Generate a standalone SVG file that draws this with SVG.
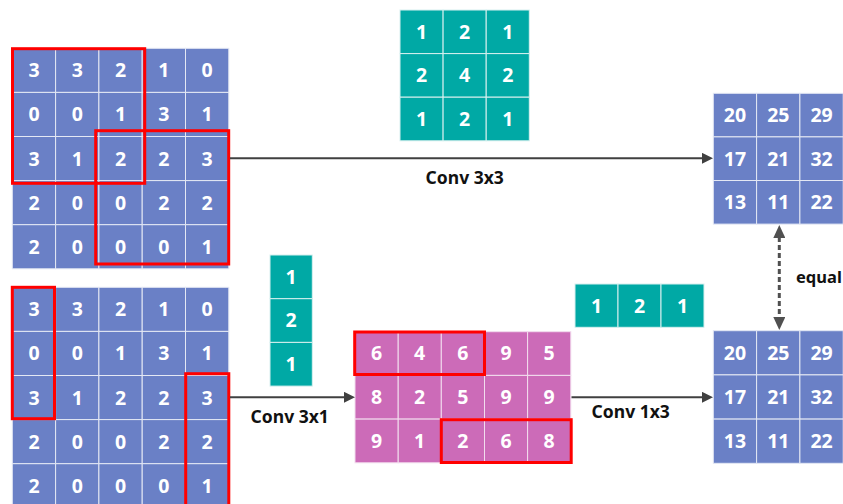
<svg xmlns="http://www.w3.org/2000/svg" width="843" height="504" viewBox="0 0 843 504">
<style>
.b{fill:#6A80C6;stroke:#E4E8F4;stroke-width:1}
.t{fill:#00A9A5;stroke:#D8F0EF;stroke-width:1}
.p{fill:#CC6BB8;stroke:#F2DDEE;stroke-width:1}
.n{font-family:"Noto Sans","Open Sans","DejaVu Sans",sans-serif;font-weight:bold;font-size:19.5px;fill:#fff;text-anchor:middle}
.lb{font-family:"Noto Sans","Open Sans","DejaVu Sans",sans-serif;font-weight:bold;font-size:17.5px;fill:#111}
.rb{fill:none;stroke:#FF0000;stroke-width:3}
.ar{fill:none;stroke:#404040;stroke-width:2}
.da{fill:none;stroke:#505050;stroke-width:3;stroke-dasharray:5 3}
</style>
<defs>
<marker id="ah" viewBox="0 0 11 11" refX="1" refY="5.5" markerWidth="11" markerHeight="11" markerUnits="userSpaceOnUse" orient="auto"><path d="M0,0 L11,5.5 L0,11 z" fill="#404040"/></marker>
<marker id="dh" viewBox="0 0 13 12" refX="1" refY="6" markerWidth="13" markerHeight="12" markerUnits="userSpaceOnUse" orient="auto-start-reverse"><path d="M0,0 L13,6 L0,12 z" fill="#505050"/></marker>
</defs>

<g id="input-top">
<rect class="b" x="12.3" y="48.3" width="43.3" height="44.1"/><rect class="b" x="55.6" y="48.3" width="43.3" height="44.1"/><rect class="b" x="98.9" y="48.3" width="43.3" height="44.1"/><rect class="b" x="142.2" y="48.3" width="43.3" height="44.1"/><rect class="b" x="185.5" y="48.3" width="43.3" height="44.1"/>
<rect class="b" x="12.3" y="92.4" width="43.3" height="44.1"/><rect class="b" x="55.6" y="92.4" width="43.3" height="44.1"/><rect class="b" x="98.9" y="92.4" width="43.3" height="44.1"/><rect class="b" x="142.2" y="92.4" width="43.3" height="44.1"/><rect class="b" x="185.5" y="92.4" width="43.3" height="44.1"/>
<rect class="b" x="12.3" y="136.5" width="43.3" height="44.1"/><rect class="b" x="55.6" y="136.5" width="43.3" height="44.1"/><rect class="b" x="98.9" y="136.5" width="43.3" height="44.1"/><rect class="b" x="142.2" y="136.5" width="43.3" height="44.1"/><rect class="b" x="185.5" y="136.5" width="43.3" height="44.1"/>
<rect class="b" x="12.3" y="180.6" width="43.3" height="44.1"/><rect class="b" x="55.6" y="180.6" width="43.3" height="44.1"/><rect class="b" x="98.9" y="180.6" width="43.3" height="44.1"/><rect class="b" x="142.2" y="180.6" width="43.3" height="44.1"/><rect class="b" x="185.5" y="180.6" width="43.3" height="44.1"/>
<rect class="b" x="12.3" y="224.7" width="43.3" height="44.1"/><rect class="b" x="55.6" y="224.7" width="43.3" height="44.1"/><rect class="b" x="98.9" y="224.7" width="43.3" height="44.1"/><rect class="b" x="142.2" y="224.7" width="43.3" height="44.1"/><rect class="b" x="185.5" y="224.7" width="43.3" height="44.1"/>
<text class="n" x="34" y="77.3">3</text><text class="n" x="77.3" y="77.3">3</text><text class="n" x="120.6" y="77.3">2</text><text class="n" x="163.9" y="77.3">1</text><text class="n" x="207.2" y="77.3">0</text>
<text class="n" x="34" y="121.4">0</text><text class="n" x="77.3" y="121.4">0</text><text class="n" x="120.6" y="121.4">1</text><text class="n" x="163.9" y="121.4">3</text><text class="n" x="207.2" y="121.4">1</text>
<text class="n" x="34" y="165.5">3</text><text class="n" x="77.3" y="165.5">1</text><text class="n" x="120.6" y="165.5">2</text><text class="n" x="163.9" y="165.5">2</text><text class="n" x="207.2" y="165.5">3</text>
<text class="n" x="34" y="209.6">2</text><text class="n" x="77.3" y="209.6">0</text><text class="n" x="120.6" y="209.6">0</text><text class="n" x="163.9" y="209.6">2</text><text class="n" x="207.2" y="209.6">2</text>
<text class="n" x="34" y="253.7">2</text><text class="n" x="77.3" y="253.7">0</text><text class="n" x="120.6" y="253.7">0</text><text class="n" x="163.9" y="253.7">0</text><text class="n" x="207.2" y="253.7">1</text>
<rect class="rb" x="12.5" y="48.7" width="132.2" height="134.6"/>
<rect class="rb" x="95.7" y="130.7" width="133" height="133.3"/>
</g>

<g id="input-bottom">
<rect class="b" x="12.3" y="287.3" width="43.3" height="44.1"/><rect class="b" x="55.6" y="287.3" width="43.3" height="44.1"/><rect class="b" x="98.9" y="287.3" width="43.3" height="44.1"/><rect class="b" x="142.2" y="287.3" width="43.3" height="44.1"/><rect class="b" x="185.5" y="287.3" width="43.3" height="44.1"/>
<rect class="b" x="12.3" y="331.4" width="43.3" height="44.1"/><rect class="b" x="55.6" y="331.4" width="43.3" height="44.1"/><rect class="b" x="98.9" y="331.4" width="43.3" height="44.1"/><rect class="b" x="142.2" y="331.4" width="43.3" height="44.1"/><rect class="b" x="185.5" y="331.4" width="43.3" height="44.1"/>
<rect class="b" x="12.3" y="375.5" width="43.3" height="44.1"/><rect class="b" x="55.6" y="375.5" width="43.3" height="44.1"/><rect class="b" x="98.9" y="375.5" width="43.3" height="44.1"/><rect class="b" x="142.2" y="375.5" width="43.3" height="44.1"/><rect class="b" x="185.5" y="375.5" width="43.3" height="44.1"/>
<rect class="b" x="12.3" y="419.6" width="43.3" height="44.1"/><rect class="b" x="55.6" y="419.6" width="43.3" height="44.1"/><rect class="b" x="98.9" y="419.6" width="43.3" height="44.1"/><rect class="b" x="142.2" y="419.6" width="43.3" height="44.1"/><rect class="b" x="185.5" y="419.6" width="43.3" height="44.1"/>
<rect class="b" x="12.3" y="463.7" width="43.3" height="44.1"/><rect class="b" x="55.6" y="463.7" width="43.3" height="44.1"/><rect class="b" x="98.9" y="463.7" width="43.3" height="44.1"/><rect class="b" x="142.2" y="463.7" width="43.3" height="44.1"/><rect class="b" x="185.5" y="463.7" width="43.3" height="44.1"/>
<text class="n" x="34" y="316.3">3</text><text class="n" x="77.3" y="316.3">3</text><text class="n" x="120.6" y="316.3">2</text><text class="n" x="163.9" y="316.3">1</text><text class="n" x="207.2" y="316.3">0</text>
<text class="n" x="34" y="360.4">0</text><text class="n" x="77.3" y="360.4">0</text><text class="n" x="120.6" y="360.4">1</text><text class="n" x="163.9" y="360.4">3</text><text class="n" x="207.2" y="360.4">1</text>
<text class="n" x="34" y="404.5">3</text><text class="n" x="77.3" y="404.5">1</text><text class="n" x="120.6" y="404.5">2</text><text class="n" x="163.9" y="404.5">2</text><text class="n" x="207.2" y="404.5">3</text>
<text class="n" x="34" y="448.6">2</text><text class="n" x="77.3" y="448.6">0</text><text class="n" x="120.6" y="448.6">0</text><text class="n" x="163.9" y="448.6">2</text><text class="n" x="207.2" y="448.6">2</text>
<text class="n" x="34" y="492.7">2</text><text class="n" x="77.3" y="492.7">0</text><text class="n" x="120.6" y="492.7">0</text><text class="n" x="163.9" y="492.7">0</text><text class="n" x="207.2" y="492.7">1</text>
<rect class="rb" x="12.3" y="287.3" width="42.2" height="131.4"/>
<rect class="rb" x="185.7" y="373.7" width="43.1" height="132"/>
</g>

<g id="kernel-3x3">
<rect class="t" x="400" y="10" width="43.1" height="43.6"/><rect class="t" x="443.1" y="10" width="43.1" height="43.6"/><rect class="t" x="486.2" y="10" width="43.1" height="43.6"/>
<rect class="t" x="400" y="53.6" width="43.1" height="43.6"/><rect class="t" x="443.1" y="53.6" width="43.1" height="43.6"/><rect class="t" x="486.2" y="53.6" width="43.1" height="43.6"/>
<rect class="t" x="400" y="97.2" width="43.1" height="43.6"/><rect class="t" x="443.1" y="97.2" width="43.1" height="43.6"/><rect class="t" x="486.2" y="97.2" width="43.1" height="43.6"/>
<text class="n" x="421.6" y="38.7">1</text><text class="n" x="464.7" y="38.7">2</text><text class="n" x="507.8" y="38.7">1</text>
<text class="n" x="421.6" y="82.3">2</text><text class="n" x="464.7" y="82.3">4</text><text class="n" x="507.8" y="82.3">2</text>
<text class="n" x="421.6" y="125.9">1</text><text class="n" x="464.7" y="125.9">2</text><text class="n" x="507.8" y="125.9">1</text>
</g>

<g id="kernel-3x1">
<rect class="t" x="270" y="255" width="42.3" height="43.7"/><rect class="t" x="270" y="298.7" width="42.3" height="43.7"/><rect class="t" x="270" y="342.4" width="42.3" height="43.7"/>
<text class="n" x="291.2" y="283.7">1</text><text class="n" x="291.2" y="327.4">2</text><text class="n" x="291.2" y="371.1">1</text>
</g>

<g id="kernel-1x3">
<rect class="t" x="575" y="284" width="43" height="43.3"/><rect class="t" x="618" y="284" width="43" height="43.3"/><rect class="t" x="661" y="284" width="43" height="43.3"/>
<text class="n" x="596.5" y="312.6">1</text><text class="n" x="639.5" y="312.6">2</text><text class="n" x="682.5" y="312.6">1</text>
</g>

<g id="intermediate">
<rect class="p" x="355" y="331.7" width="43.2" height="43.7"/><rect class="p" x="398.2" y="331.7" width="43.1" height="43.7"/><rect class="p" x="441.3" y="331.7" width="43.2" height="43.7"/><rect class="p" x="484.5" y="331.7" width="43.1" height="43.7"/><rect class="p" x="527.6" y="331.7" width="43.2" height="43.7"/>
<rect class="p" x="355" y="375.4" width="43.2" height="43.7"/><rect class="p" x="398.2" y="375.4" width="43.1" height="43.7"/><rect class="p" x="441.3" y="375.4" width="43.2" height="43.7"/><rect class="p" x="484.5" y="375.4" width="43.1" height="43.7"/><rect class="p" x="527.6" y="375.4" width="43.2" height="43.7"/>
<rect class="p" x="355" y="419.1" width="43.2" height="43.7"/><rect class="p" x="398.2" y="419.1" width="43.1" height="43.7"/><rect class="p" x="441.3" y="419.1" width="43.2" height="43.7"/><rect class="p" x="484.5" y="419.1" width="43.1" height="43.7"/><rect class="p" x="527.6" y="419.1" width="43.2" height="43.7"/>
<text class="n" x="376.6" y="360.4">6</text><text class="n" x="419.7" y="360.4">4</text><text class="n" x="462.9" y="360.4">6</text><text class="n" x="506" y="360.4">9</text><text class="n" x="549.2" y="360.4">5</text>
<text class="n" x="376.6" y="404.1">8</text><text class="n" x="419.7" y="404.1">2</text><text class="n" x="462.9" y="404.1">5</text><text class="n" x="506" y="404.1">9</text><text class="n" x="549.2" y="404.1">9</text>
<text class="n" x="376.6" y="447.9">9</text><text class="n" x="419.7" y="447.9">1</text><text class="n" x="462.9" y="447.9">2</text><text class="n" x="506" y="447.9">6</text><text class="n" x="549.2" y="447.9">8</text>
<rect class="rb" x="354.7" y="332" width="129.8" height="42.5"/>
<rect class="rb" x="441.3" y="419.7" width="129.9" height="42.8"/>
</g>

<g id="output-top">
<rect class="b" x="713.3" y="93.3" width="43.3" height="43.6"/><rect class="b" x="756.6" y="93.3" width="43.3" height="43.6"/><rect class="b" x="799.9" y="93.3" width="43.3" height="43.6"/>
<rect class="b" x="713.3" y="136.9" width="43.3" height="43.6"/><rect class="b" x="756.6" y="136.9" width="43.3" height="43.6"/><rect class="b" x="799.9" y="136.9" width="43.3" height="43.6"/>
<rect class="b" x="713.3" y="180.5" width="43.3" height="43.6"/><rect class="b" x="756.6" y="180.5" width="43.3" height="43.6"/><rect class="b" x="799.9" y="180.5" width="43.3" height="43.6"/>
<text class="n" x="735" y="122">20</text><text class="n" x="778.3" y="122">25</text><text class="n" x="821.6" y="122">29</text>
<text class="n" x="735" y="165.6">17</text><text class="n" x="778.3" y="165.6">21</text><text class="n" x="821.6" y="165.6">32</text>
<text class="n" x="735" y="209.2">13</text><text class="n" x="778.3" y="209.2">11</text><text class="n" x="821.6" y="209.2">22</text>
</g>

<g id="output-bottom">
<rect class="b" x="713.3" y="330.7" width="43.3" height="44.2"/><rect class="b" x="756.6" y="330.7" width="43.3" height="44.2"/><rect class="b" x="799.9" y="330.7" width="43.3" height="44.2"/>
<rect class="b" x="713.3" y="374.9" width="43.3" height="44.2"/><rect class="b" x="756.6" y="374.9" width="43.3" height="44.2"/><rect class="b" x="799.9" y="374.9" width="43.3" height="44.2"/>
<rect class="b" x="713.3" y="419.1" width="43.3" height="44.2"/><rect class="b" x="756.6" y="419.1" width="43.3" height="44.2"/><rect class="b" x="799.9" y="419.1" width="43.3" height="44.2"/>
<text class="n" x="735" y="359.7">20</text><text class="n" x="778.3" y="359.7">25</text><text class="n" x="821.6" y="359.7">29</text>
<text class="n" x="735" y="403.9">17</text><text class="n" x="778.3" y="403.9">21</text><text class="n" x="821.6" y="403.9">32</text>
<text class="n" x="735" y="448.1">13</text><text class="n" x="778.3" y="448.1">11</text><text class="n" x="821.6" y="448.1">22</text>
</g>

<g id="connectors">
<path class="ar" d="M230,158.3 H703" marker-end="url(#ah)"/>
<path class="ar" d="M230,397.3 H345" marker-end="url(#ah)"/>
<path class="ar" d="M571.5,397.3 H703" marker-end="url(#ah)"/>
<path class="da" d="M779.3,237 V318" marker-start="url(#dh)" marker-end="url(#dh)"/>
<text class="lb" x="464.7" y="184" text-anchor="middle">Conv 3x3</text>
<text class="lb" x="289.7" y="422.7" text-anchor="middle">Conv 3x1</text>
<text class="lb" x="630.7" y="417.7" text-anchor="middle">Conv 1x3</text>
<text class="lb" x="796" y="283.3" style="font-size:16.5px">equal</text>
</g>
</svg>
